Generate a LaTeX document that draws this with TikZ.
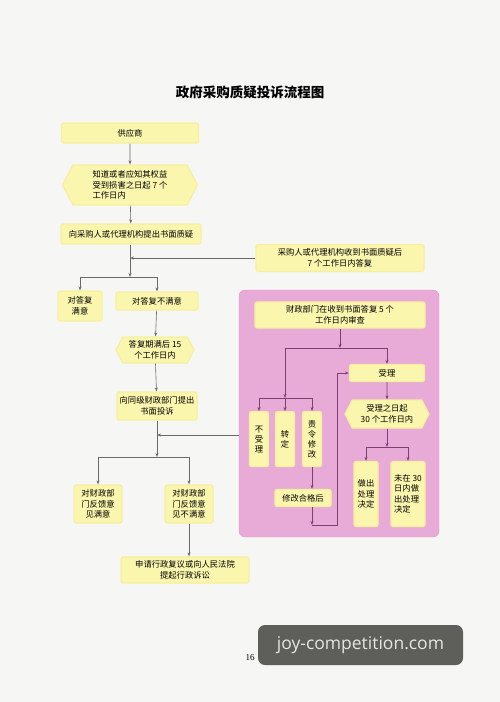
\documentclass[tikz,border=0pt]{standalone}
\usepackage{fontspec}
\setmainfont{Noto Sans CJK SC}
\newfontfamily\wmfont{Open Sans}
\newfontfamily\numfont{Liberation Serif}
\usetikzlibrary{arrows.meta,shapes.symbols}

\definecolor{pagebg}{HTML}{F6F6F5}
\definecolor{boxyellow}{HTML}{FBF6AE}
\definecolor{boxedge}{HTML}{F6EFA0}
\definecolor{pinkbg}{HTML}{E8AAD6}
\definecolor{pinkedge}{HTML}{DE98CB}
\definecolor{linegray}{HTML}{6A6A6A}
\definecolor{linepurple}{HTML}{7E3F72}
\definecolor{wmgray}{HTML}{5E5E5A}
\definecolor{wmtext}{HTML}{E4E8DF}

\begin{document}
\begin{tikzpicture}[x=1pt,y=-1pt,
	>={Stealth[length=4pt,width=3pt]},
	ybox/.style={fill=boxyellow, draw=boxedge, line width=1.2pt, rounded corners=2pt,
		inner sep=1pt, align=center, font=\fontsize{8.3}{10.5}\selectfont},
	yhex/.style={ybox, signal, signal to=west and east, signal pointer angle=125, rounded corners=0pt},
	vbox/.style={ybox, anchor=north, minimum width=19, minimum height=55, font=\fontsize{8.3}{10}\selectfont},
	flow/.style={draw=linegray, line width=0.6pt},
	pflow/.style={draw=linepurple, line width=0.6pt}]

	\useasboundingbox (0,0) rectangle (500,702);
	\fill[pagebg] (0,0) rectangle (500,702);

	\node[font=\fontsize{13.5}{14}\selectfont\bfseries] (title) at (250,92) {政府采购质疑投诉流程图};

	% left column
	\draw node[ybox, minimum width=137, minimum height=20] (n1) at (130,133) {供应商};
	\draw node[yhex, minimum width=135, minimum height=40, align=left] (n2) at (130,185) {知道或者应知其权益\\受到损害之日起 7 个\\工作日内};
	\draw node[ybox, minimum width=140, minimum height=20] (n3) at (131,234) {向采购人或代理机构提出书面质疑};
	\draw node[ybox, minimum width=168, minimum height=27] (n4) at (340,258) {采购人或代理机构收到书面质疑后\\7 个工作日内答复};
	\draw node[ybox, minimum width=44, minimum height=30] (n5) at (80,306) {对答复\\满意};
	\draw node[ybox, minimum width=82, minimum height=18] (n6) at (157,301) {对答复不满意};
	\draw node[yhex, minimum width=78, minimum height=26] (n7) at (155,350) {答复期满后 15\\个工作日内};
	\draw node[ybox, minimum width=80, minimum height=28] (n8) at (157,406) {向同级财政部门提出\\书面投诉};
	\draw node[ybox, minimum width=48, minimum height=38] (n9) at (98,504) {对财政部\\门反馈意\\见满意};
	\draw node[ybox, minimum width=48, minimum height=38] (n10) at (189,504) {对财政部\\门反馈意\\见不满意};
	\draw node[ybox, minimum width=128, minimum height=26] (n11) at (185,570) {申请行政复议或向人民法院\\提起行政诉讼};

	% finance department panel
	\draw[fill=pinkbg, draw=pinkedge, rounded corners=6pt] (239,290) rectangle (439,537);
	\draw node[ybox, minimum width=170, minimum height=26] (p1) at (340,315) {财政部门在收到书面答复 5 个\\工作日内审查};
	\draw node[ybox, minimum width=75, minimum height=17] (p2) at (387,373) {受理};
	\draw node[vbox] (p3) at (259,411) {不\\受\\理};
	\draw node[vbox] (p4) at (285,411) {转\\定};
	\draw node[vbox] (p5) at (312,411) {责\\令\\修\\改};
	\draw node[ybox, minimum width=56, minimum height=17] (p6) at (303,498) {修改合格后};
	\draw node[yhex, minimum width=84, minimum height=28] (p7) at (387,414) {受理之日起\\30 个工作日内};
	\draw node[ybox, minimum width=24, minimum height=65] (p8) at (366,494) {做出\\处理\\决定};
	\draw node[ybox, minimum width=34, minimum height=65, align=left] (p9) at (408,494) {未在 30\\日内做\\出处理\\决定};

	\coordinate (j1) at (130,277);
	\coordinate (j2) at (157,457);
	\coordinate (j3) at (340,348);
	\coordinate (j4) at (285,398);
	\coordinate (j5) at (312,525);
	\coordinate (j6) at (387,447);
	\coordinate (pl) at (239,435);

	\draw[flow,->] (n1) -- (n2);
	\draw[flow,->] (n2) -- (n3);
	\draw[flow,->] (n3.south -| j1) -- (j1);
	\draw[flow,->] (n4.west) -- (n4.west -| j1);
	\draw[flow,->] (j1) -| (n5.north);
	\draw[flow,->] (j1) -| (n6.north);
	\draw[flow,->] (n6) -- (n7);
	\draw[flow,->] (n7) -- (n8);
	\draw[flow,->] (n8.south) -- (j2);
	\draw[flow,->] (pl) -- (pl -| j2);
	\draw[flow,->] (j2) -| (n9.north);
	\draw[flow,->] (j2) -| (n10.north);
	\draw[flow,->] (n10.south) -- (n10.south |- n11.north);

	\draw[pflow,->] (p1.south) -- (j3);
	\draw[pflow,->] (j3) -| (p2.north);
	\draw[pflow,->] (j3) -| (j4);
	\draw[pflow,->] (j4) -| (p3.north);
	\draw[pflow,->] (j4) -- (p4.north);
	\draw[pflow,->] (j4) -| (p5.north);
	\draw[pflow,->] (p5.south) -- (p5.south |- p6.north);
	\draw[pflow,->] (p5.south |- p6.south) -- (j5);
	\draw[pflow,->] (j5) -- ++(25,0) |- (p2.west);
	\draw[pflow,->] (p2) -- (p7);
	\draw[pflow,->] (p7.south) -- (j6);
	\draw[pflow,->] (j6) -| (p8.north);
	\draw[pflow,->] (j6) -| (p9.north);

	\node[font=\numfont\fontsize{9}{9}\selectfont] (page) at (250,658) {16};
	\node[fill=wmgray, rounded corners=7pt, minimum width=205, minimum height=40, text=wmtext,
		font=\wmfont\fontsize{17.5}{18}\selectfont] (wm) at (360.5,645) {joy-competition.com};
\end{tikzpicture}
\end{document}
